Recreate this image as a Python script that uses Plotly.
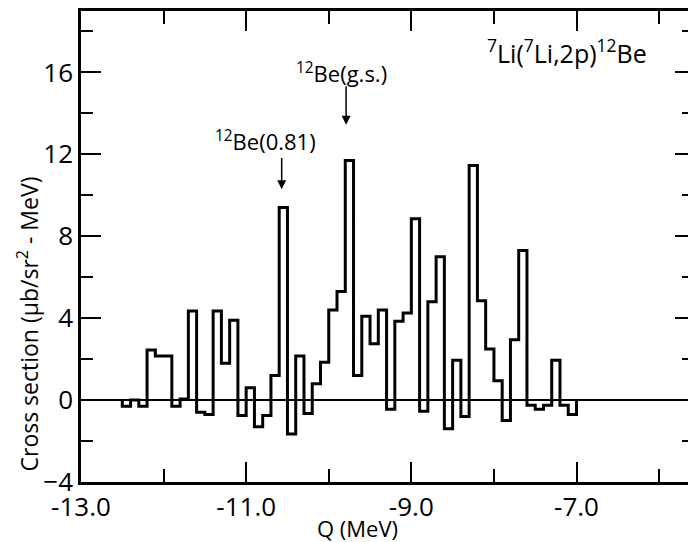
import numpy as np
import plotly.graph_objects as go

# Q-value histogram, 0.1 MeV bins from -12.5 to -7.0 MeV
bin_start = -12.5
bin_width = 0.1
cross_section = [
    -0.3, 0.0, -0.3, 2.45, 2.15, 2.15, -0.3, 0.05, 4.35, -0.6,
    -0.7, 4.35, 1.8, 3.9, -0.75, 0.6, -1.3, -0.75, 1.2, 9.4,
    -1.65, 2.15, -0.65, 0.8, 1.85, 4.4, 5.3, 11.7, 1.2, 4.1,
    2.75, 4.4, -0.45, 3.85, 4.25, 8.85, -0.55, 4.8, 7.0, -1.4,
    1.95, -0.8, 11.45, 4.85, 2.5, 0.95, -1.0, 2.95, 7.3, -0.25,
    -0.45, -0.25, 1.95, -0.25, -0.7,
]

x_ticks = [-13.0, -11.0, -9.0, -7.0]
x_tick_text = ["-13.0", "-11.0", "-9.0", "-7.0"]
y_ticks = [-4, 0, 4, 8, 12, 16]

# state markers: (label, Q position, arrow tail, arrow tip, label height, label x)
states = [
    ("<sup>12</sup>Be(g.s.)", -9.79, 15.4, 13.45, 16.0, -9.84),
    ("<sup>12</sup>Be(0.81)", -10.57, 11.9, 10.3, 12.7, -10.76),
]

FONT = "Open Sans"
edges = bin_start + bin_width * np.arange(len(cross_section) + 1)
xs = [edges[0]] + list(edges[:-1]) + [edges[-1]]
ys = [0.0] + cross_section + [0.0]

fig = go.Figure()
fig.add_trace(go.Scatter(
    x=xs, y=ys, mode="lines", line=dict(shape="hv", color="black", width=3),
    hoverinfo="skip", showlegend=False,
))
# helper trace so the right-hand tick axis is drawn
fig.add_trace(go.Scatter(x=[-13], y=[0], yaxis="y2", mode="markers",
                         marker=dict(opacity=0), showlegend=False, hoverinfo="skip"))

x_range = [-13.0, -5.65]
y_range = [-4, 19]

fig.update_layout(
    width=688, height=542,
    margin=dict(l=81, r=0, t=11, b=60),
    paper_bgcolor="white", plot_bgcolor="white",
    font=dict(family=FONT, color="black", size=24),
    xaxis=dict(
        range=x_range, showgrid=False, zeroline=False,
        showline=True, linecolor="black", linewidth=2.5, mirror="ticks",
        ticks="inside", ticklen=20, tickwidth=2, tickcolor="black",
        tickvals=x_ticks, ticktext=x_tick_text,
        tickfont=dict(size=26, family=FONT),
        minor=dict(tickvals=[-12.0, -10.0, -8.0, -6.0], ticks="inside",
                   ticklen=13, tickwidth=2, tickcolor="black"),
    ),
    yaxis=dict(
        range=y_range, showgrid=False,
        zeroline=True, zerolinecolor="black", zerolinewidth=1.5,
        showline=True, linecolor="black", linewidth=2.5,
        ticks="inside", ticklen=20, tickwidth=2, tickcolor="black",
        tickvals=y_ticks, tickfont=dict(size=26, family=FONT),
        minor=dict(tickvals=[-2, 2, 6, 10, 14, 18], ticks="inside",
                   ticklen=12, tickwidth=2, tickcolor="black"),
    ),
    yaxis2=dict(
        range=y_range, overlaying="y", side="right", anchor="x",
        showgrid=False, zeroline=False, showline=False,
        ticks="inside", ticklen=13, tickwidth=2, tickcolor="black",
        tickvals=y_ticks, showticklabels=False,
        minor=dict(tickvals=[-2, 2, 6, 10, 14, 18], ticks="inside",
                   ticklen=6, tickwidth=2, tickcolor="black"),
    ),
)

annotations = []
for label, xq, tail, tip, ylab, xlab in states:
    annotations.append(dict(
        x=xq, y=tip, ax=xq, ay=tail, xref="x", yref="y", axref="x", ayref="y",
        text="", showarrow=True, arrowhead=2, arrowsize=1.2, arrowwidth=1.5,
        arrowcolor="black",
    ))
    annotations.append(dict(
        x=xlab, y=ylab, xref="x", yref="y", text=label, showarrow=False,
        font=dict(size=22, family=FONT, color="black"),
        xanchor="center", yanchor="middle",
    ))

annotations.append(dict(
    x=-7.12, y=17.0, xref="x", yref="y",
    text="<sup>7</sup>Li(<sup>7</sup>Li,2p)<sup>12</sup>Be",
    showarrow=False, font=dict(size=25, family=FONT),
    xanchor="center", yanchor="middle",
))
annotations.append(dict(
    x=-9.65, y=-0.097, xref="x", yref="paper", text="Q (MeV)",
    showarrow=False, font=dict(size=22, family=FONT),
    xanchor="center", yanchor="middle",
))
annotations.append(dict(
    x=-0.087, y=3.7, xref="paper", yref="y",
    text="Cross section (\u03bcb/sr<sup>2</sup> - MeV)",
    showarrow=False, textangle=-90, font=dict(size=23, family=FONT),
    xanchor="center", yanchor="middle",
))
fig.update_layout(annotations=annotations)

fig.write_html("out.html")
